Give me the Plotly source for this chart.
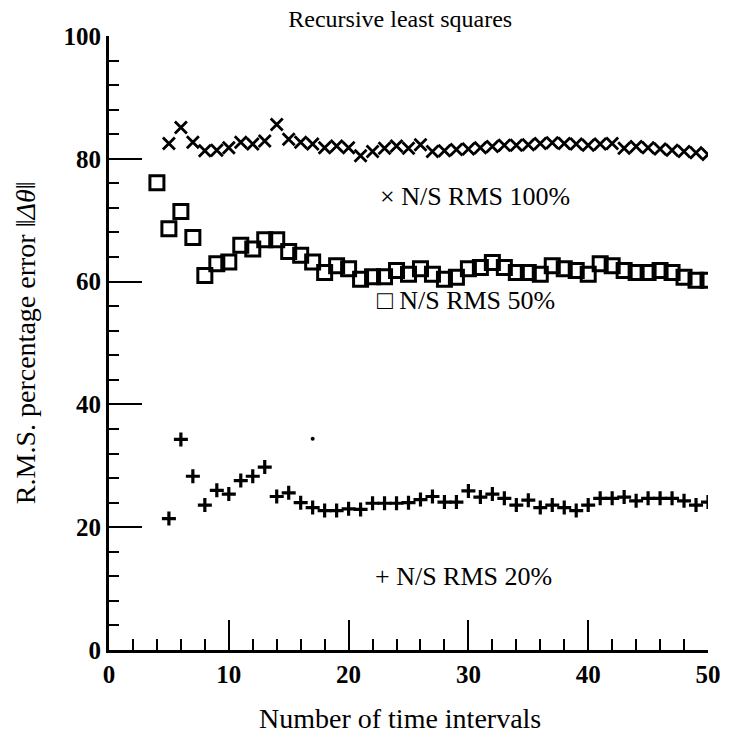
import plotly.graph_objects as go

# Time intervals for each noise level
x_100 = list(range(5, 51))
x_50 = list(range(4, 51))
x_20 = list(range(5, 51))

# R.M.S. percentage error, N/S RMS 100%
err_100 = [82.5, 85.1, 82.7, 81.3, 81.4, 81.8, 82.7, 82.4, 82.9, 85.6,
           83.2, 82.7, 82.4, 81.8, 82.1, 81.8, 80.5, 81.2, 81.7, 82.1,
           81.7, 82.3, 81.2, 81.3, 81.5, 81.6, 81.8, 82.0, 82.2, 82.2,
           82.3, 82.5, 82.6, 82.5, 82.4, 82.2, 82.4, 82.5, 81.7, 82.0,
           81.8, 81.6, 81.4, 81.2, 81.0, 80.7]

# R.M.S. percentage error, N/S RMS 50%
err_50 = [76.1, 68.6, 71.4, 67.2, 61.0, 62.9, 63.2, 65.9, 65.3, 66.8,
          66.8, 64.9, 64.3, 63.2, 61.5, 62.6, 62.1, 60.4, 60.8, 60.8,
          61.8, 61.2, 62.1, 61.2, 60.4, 60.7, 62.1, 62.3, 63.1, 62.3,
          61.5, 61.5, 61.2, 62.6, 62.1, 61.8, 61.2, 62.9, 62.6, 61.8,
          61.5, 61.5, 61.8, 61.5, 60.7, 60.2, 60.2]

# R.M.S. percentage error, N/S RMS 20%
err_20 = [21.4, 34.3, 28.3, 23.6, 26.0, 25.4, 27.6, 28.3, 29.8, 25.0,
          25.6, 24.0, 23.2, 22.7, 22.7, 23.0, 22.9, 23.9, 23.9, 23.9,
          24.0, 24.5, 25.0, 24.1, 24.1, 25.9, 24.9, 25.4, 24.7, 23.6,
          24.4, 23.2, 23.6, 23.2, 22.7, 23.6, 24.7, 24.7, 24.9, 24.3,
          24.7, 24.7, 24.7, 24.3, 23.6, 24.1]

# Isolated dot printed near the 20% series
dot_x = [17]
dot_y = [34.4]

series_labels = ["× N/S RMS 100%", "□ N/S RMS 50%", "+ N/S RMS 20%"]
label_x = [22.45, 22.2, 22.05]
label_y = [73.8, 57.0, 11.9]

SERIF = "Liberation Serif, Times New Roman, serif"
INK = "black"

fig = go.Figure()

fig.add_trace(go.Scatter(
    x=x_100, y=err_100, mode="markers",
    marker=dict(symbol="x-thin-open", size=12, color=INK,
                line=dict(color=INK, width=2.8)),
    showlegend=False, hoverinfo="x+y"))

fig.add_trace(go.Scatter(
    x=x_50, y=err_50, mode="markers",
    marker=dict(symbol="square-open", size=14, color=INK,
                line=dict(color=INK, width=3)),
    showlegend=False, hoverinfo="x+y"))

fig.add_trace(go.Scatter(
    x=x_20, y=err_20, mode="markers",
    marker=dict(symbol="cross-thin-open", size=10, color=INK,
                line=dict(color=INK, width=3.2)),
    showlegend=False, hoverinfo="x+y"))

fig.add_trace(go.Scatter(
    x=dot_x, y=dot_y, mode="markers",
    marker=dict(symbol="circle", size=4, color=INK),
    showlegend=False, hoverinfo="skip"))

for txt, lx, ly in zip(series_labels, label_x, label_y):
    fig.add_annotation(x=lx, y=ly, xref="x", yref="y", text=txt,
                       showarrow=False, xanchor="left", yanchor="middle",
                       font=dict(family=SERIF, size=26, color=INK))

# Axis titles
fig.add_annotation(x=0.485, y=-0.111, xref="paper", yref="paper",
                   text="Number of time intervals", showarrow=False,
                   xanchor="center", yanchor="middle",
                   font=dict(family=SERIF, size=28, color=INK))
fig.add_annotation(x=-0.14, y=0.5, xref="paper", yref="paper",
                   text="R.M.S. percentage error ‖<i>Δθ</i>‖", textangle=-90,
                   showarrow=False, xanchor="center", yanchor="middle",
                   font=dict(family=SERIF, size=28, color=INK))

tick_font = dict(family=SERIF, size=25, color=INK, weight="bold")

fig.update_layout(
    width=733, height=734,
    margin=dict(l=109, r=14, t=36, b=84),
    paper_bgcolor="white", plot_bgcolor="white",
    title=dict(text="Recursive least squares", x=0.546, xref="container",
               y=0.975, yref="container", xanchor="center", yanchor="middle",
               font=dict(family=SERIF, size=24, color=INK)),
    xaxis=dict(range=[0, 50], showgrid=False, zeroline=False,
               showline=True, linecolor=INK, linewidth=2.8,
               ticks="inside", ticklen=30, tickwidth=2.2, tickcolor=INK,
               tick0=0, dtick=10, tickfont=tick_font,
               minor=dict(ticks="inside", ticklen=11, tickwidth=2.2,
                          tickcolor=INK, dtick=2, showgrid=False)),
    yaxis=dict(range=[0, 100], showgrid=False, zeroline=False,
               showline=True, linecolor=INK, linewidth=2.8,
               ticks="inside", ticklen=33, tickwidth=2.2, tickcolor=INK,
               tick0=0, dtick=20, tickfont=tick_font,
               minor=dict(ticks="inside", ticklen=10, tickwidth=2.2,
                          tickcolor=INK, dtick=4, showgrid=False)),
)

fig.write_html("out.html")
